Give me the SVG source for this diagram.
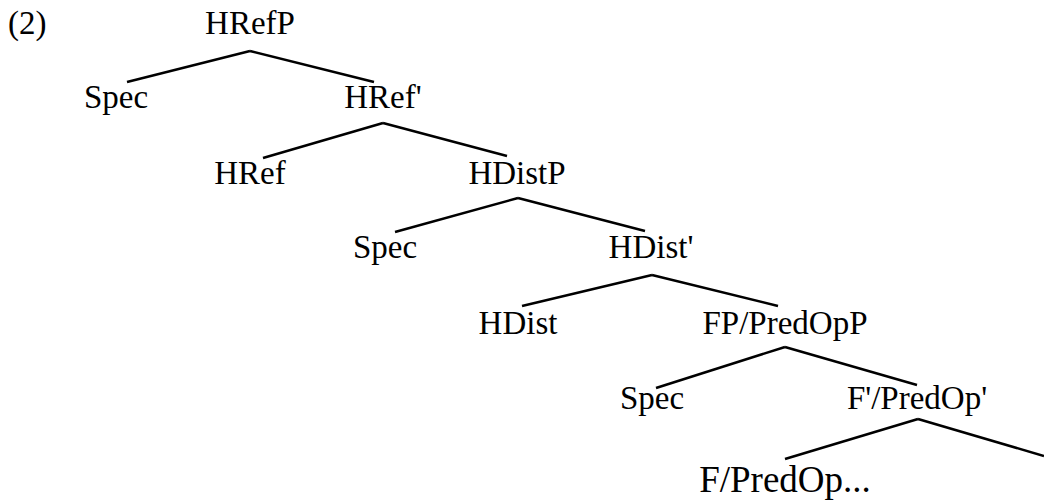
<svg xmlns="http://www.w3.org/2000/svg" width="1044" height="500" viewBox="0 0 1044 500">
<style>
text{font-family:"Liberation Serif","Times New Roman",serif;font-size:33px;fill:#000;text-anchor:middle}
.big{font-size:37px}
#edges line{stroke:#000;stroke-width:2.5;stroke-linecap:butt}
</style>
<rect width="1044" height="500" fill="#fff"/>
<text x="8" y="34" style="text-anchor:start">(2)</text>
<g id="edges">
<line x1="250" y1="51" x2="127" y2="82"/>
<line x1="250" y1="51" x2="374" y2="82"/>
<line x1="383" y1="123" x2="263" y2="158"/>
<line x1="383" y1="123" x2="507" y2="156"/>
<line x1="518" y1="198" x2="395" y2="232"/>
<line x1="518" y1="198" x2="645" y2="231"/>
<line x1="652" y1="275" x2="522" y2="306"/>
<line x1="652" y1="275" x2="778" y2="306"/>
<line x1="785" y1="347" x2="656" y2="388"/>
<line x1="785" y1="347" x2="917" y2="385"/>
<line x1="918" y1="419" x2="785" y2="459"/>
<line x1="918" y1="419" x2="1044" y2="456"/>
</g>
<g id="n-HRefP"><text x="250" y="34">HRefP</text></g>
<g id="n-Spec1"><text x="116" y="108">Spec</text></g>
<g id="n-HRefBar"><text x="383" y="108">HRef'</text></g>
<g id="n-HRef"><text x="250" y="184">HRef</text></g>
<g id="n-HDistP"><text x="517" y="184">HDistP</text></g>
<g id="n-Spec2"><text x="385" y="258">Spec</text></g>
<g id="n-HDistBar"><text x="651" y="258">HDist'</text></g>
<g id="n-HDist"><text x="518" y="334">HDist</text></g>
<g id="n-FP"><text x="785" y="334">FP/PredOpP</text></g>
<g id="n-Spec3"><text x="652" y="409">Spec</text></g>
<g id="n-FBar"><text x="917" y="409">F'/PredOp'</text></g>
<g id="n-F"><text class="big" x="785" y="492">F/PredOp...</text></g>
</svg>
